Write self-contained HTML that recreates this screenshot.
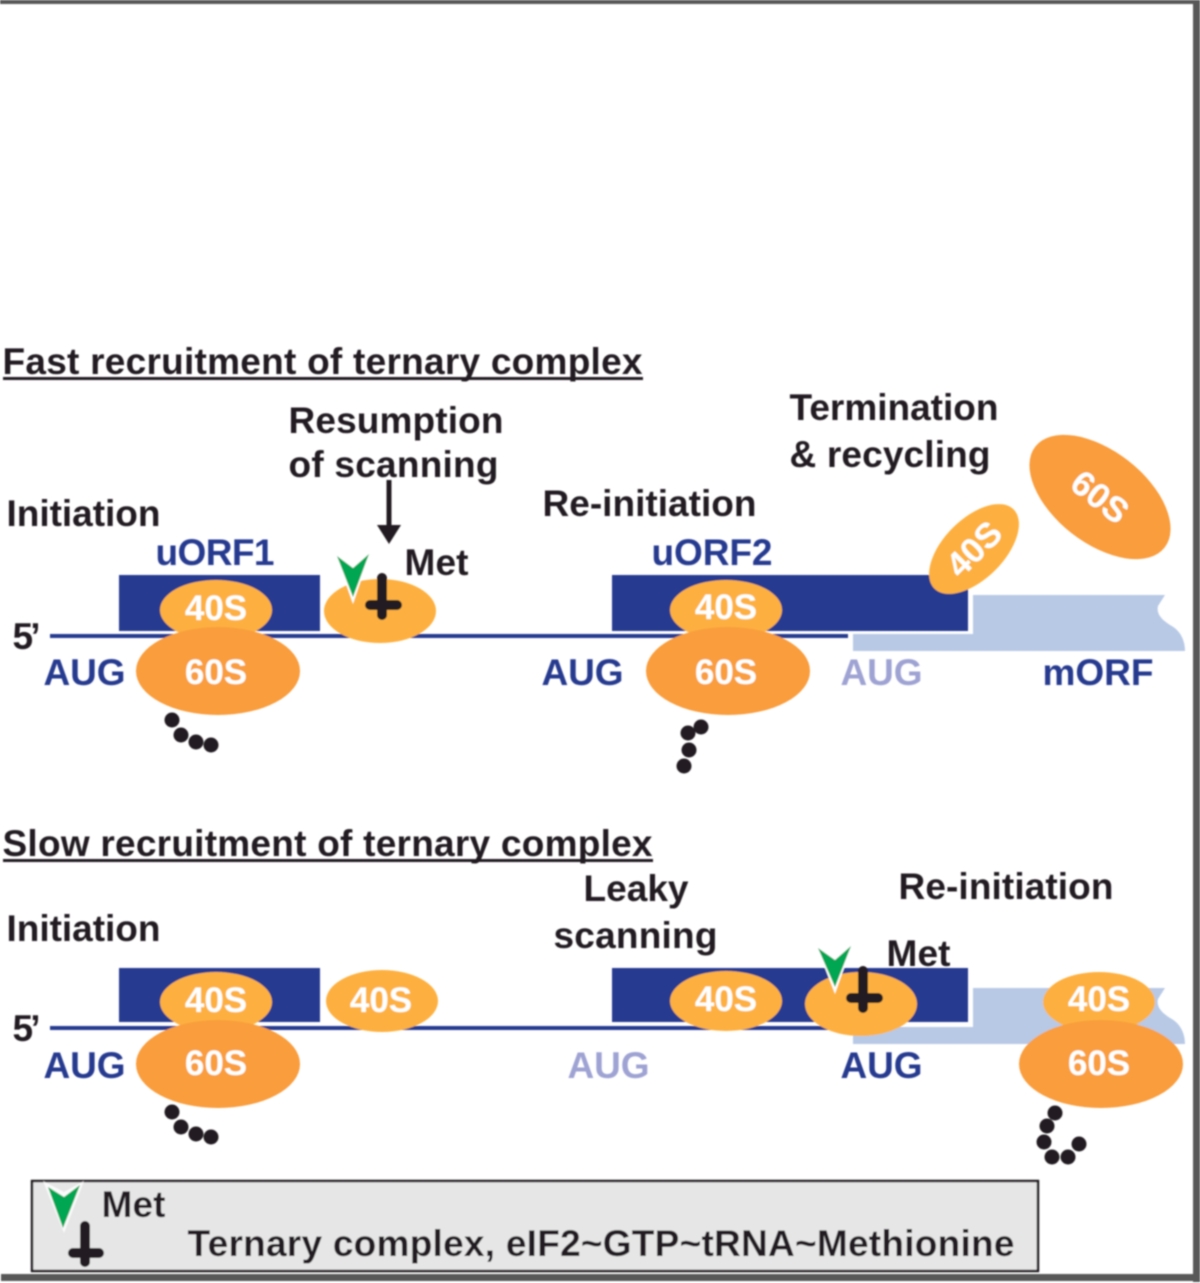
<!DOCTYPE html>
<html>
<head>
<meta charset="utf-8">
<style>
html,body{margin:0;padding:0;background:#fff;}
svg{display:block;}
text{font-family:"Liberation Sans",sans-serif;font-weight:bold;}
.k{fill:#231f20;font-size:37px;transform:translate(-0.5px,0.8px);}
.b{fill:#283a90;font-size:37px;transform:translate(-0.5px,0.8px);}
.l{fill:#9fa3d3;font-size:37px;transform:translate(-0.5px,0.8px);}
.w{fill:#fff;font-size:35px;text-anchor:middle;}
</style>
</head>
<body>
<svg width="1200" height="1283" viewBox="0 0 1200 1283" xmlns="http://www.w3.org/2000/svg">
<defs><filter id="s" x="-5%" y="-5%" width="110%" height="110%"><feGaussianBlur stdDeviation="0.8"/></filter></defs>
<rect width="1200" height="1283" fill="#fff"/>
<g filter="url(#s)">
<!-- frame -->
<rect x="0" y="0" width="1200" height="4" fill="#595959"/>
<rect x="1193" y="0" width="7" height="1282" fill="#595959"/>
<rect x="1" y="1274" width="1199" height="7" fill="#595959"/>

<!-- top panel -->
<text class="k" x="3" y="373" textLength="640">Fast recruitment of ternary complex</text>
<rect x="3" y="377" width="640" height="3" fill="#231f20"/>
<text class="k" x="289" y="432" textLength="215">Resumption</text>
<text class="k" x="289" y="476" textLength="210">of scanning</text>
<text class="k" x="790" y="419" textLength="209">Termination</text>
<text class="k" x="790" y="466" textLength="201">&amp; recycling</text>
<text class="k" x="7" y="525" textLength="154">Initiation</text>
<text class="k" x="543" y="515" textLength="214">Re-initiation</text>
<text class="b" x="156" y="564" textLength="119">uORF1</text>
<text class="b" x="652" y="564" textLength="121">uORF2</text>
<text class="k" x="405" y="574" textLength="64">Met</text>
<text class="k" x="13" y="648" textLength="28">5’</text>
<text class="b" x="44" y="684" textLength="82">AUG</text>
<text class="b" x="542" y="684" textLength="82">AUG</text>
<text class="l" x="841" y="684" textLength="82">AUG</text>
<text class="b" x="1043" y="684" textLength="111">mORF</text>

<rect x="386.500" y="480" width="5" height="46" fill="#231f20"/>
<polygon points="377,525 401,525 389,544" fill="#231f20"/>

<path d="M973 595H1165L1158 606C1156 614 1162 620 1170 625C1180 630 1185 640 1185 651H853V634H973Z" fill="#b8c9e6"/>
<rect x="50" y="634" width="798" height="4" fill="#283a90"/>
<rect x="119" y="575" width="201" height="56" fill="#283a90"/>
<rect x="612" y="575" width="356" height="56" fill="#283a90"/>

<ellipse cx="216" cy="610" rx="56" ry="30" fill="#fdb03f"/>
<ellipse cx="218" cy="671" rx="82" ry="44" fill="#f99d3c"/>
<text class="w" x="216" y="620">40S</text>
<text class="w" x="216" y="684">60S</text>

<ellipse cx="380" cy="611" rx="56" ry="32" fill="#fdb03f"/>
<polygon points="335,553 353,565 371,551 353,604" fill="#fff"/>
<polygon points="337,556 353,568 369,554 353,597" fill="#00a651"/>
<path d="M382 578V615M370 605H397" stroke="#231f20" stroke-width="10" stroke-linecap="round" fill="none"/>

<ellipse cx="726" cy="610" rx="56" ry="30" fill="#fdb03f"/>
<ellipse cx="728" cy="671" rx="82" ry="44" fill="#f99d3c"/>
<text class="w" x="726" y="619">40S</text>
<text class="w" x="726" y="684">60S</text>

<g transform="translate(974 549) rotate(-45)">
<ellipse cx="0" cy="0" rx="56" ry="30" fill="#fdb03f"/>
<text class="w" x="0" y="12">40S</text>
</g>
<g transform="translate(1100 497) rotate(38)">
<ellipse cx="0" cy="0" rx="82" ry="46" fill="#f99d3c"/>
<text class="w" x="0" y="12">60S</text>
</g>

<g fill="#231f20">
<circle cx="172" cy="720" r="7.500"/><circle cx="181" cy="735" r="7.500"/><circle cx="196" cy="742" r="7.500"/><circle cx="211" cy="745" r="7.500"/>
<circle cx="701" cy="727" r="7.500"/><circle cx="688" cy="733" r="7.500"/><circle cx="689" cy="750" r="7.500"/><circle cx="684" cy="766" r="7.500"/>
</g>

<!-- bottom panel -->
<text class="k" x="3" y="855" textLength="650">Slow recruitment of ternary complex</text>
<rect x="3" y="859" width="650" height="3" fill="#231f20"/>
<text class="k" x="7" y="940" textLength="154">Initiation</text>
<text class="k" x="584" y="900" textLength="105">Leaky</text>
<text class="k" x="554" y="947" textLength="164">scanning</text>
<text class="k" x="899" y="898" textLength="215">Re-initiation</text>
<text class="k" x="887" y="965" textLength="64">Met</text>
<text class="k" x="13" y="1040" textLength="28">5’</text>
<text class="b" x="44" y="1077" textLength="82">AUG</text>
<text class="l" x="568" y="1077" textLength="82">AUG</text>
<text class="b" x="841" y="1077" textLength="82">AUG</text>

<path d="M973 988H1165L1158 999C1156 1007 1162 1013 1170 1018C1180 1023 1185 1033 1185 1044H853V1027H973Z" fill="#b8c9e6"/>
<rect x="50" y="1026" width="790" height="4" fill="#283a90"/>
<rect x="119" y="968" width="201" height="54" fill="#283a90"/>
<rect x="612" y="968" width="356" height="54" fill="#283a90"/>

<ellipse cx="216" cy="1002" rx="56" ry="30" fill="#fdb03f"/>
<ellipse cx="218" cy="1064" rx="82" ry="44" fill="#f99d3c"/>
<text class="w" x="216" y="1012">40S</text>
<text class="w" x="216" y="1075">60S</text>

<ellipse cx="382" cy="1001" rx="56" ry="31" fill="#fdb03f"/>
<text class="w" x="381" y="1012">40S</text>

<ellipse cx="726" cy="1001" rx="56" ry="30" fill="#fdb03f"/>
<text class="w" x="726" y="1011">40S</text>

<ellipse cx="861" cy="1004" rx="56" ry="32" fill="#fdb03f"/>
<polygon points="816,945 835,957 853,943 835,994" fill="#fff"/>
<polygon points="818,948 835,960 851,946 835,987" fill="#00a651"/>
<path d="M863 971V1008M851 998H878" stroke="#231f20" stroke-width="10" stroke-linecap="round" fill="none"/>

<ellipse cx="1099" cy="1002" rx="56" ry="30" fill="#fdb03f"/>
<ellipse cx="1101" cy="1064" rx="82" ry="44" fill="#f99d3c"/>
<text class="w" x="1099" y="1011">40S</text>
<text class="w" x="1099" y="1075">60S</text>

<g fill="#231f20">
<circle cx="172" cy="1112" r="7.500"/><circle cx="181" cy="1127" r="7.500"/><circle cx="196" cy="1134" r="7.500"/><circle cx="211" cy="1137" r="7.500"/>
<circle cx="1055" cy="1113" r="7.500"/><circle cx="1047" cy="1126" r="7.500"/><circle cx="1044" cy="1142" r="7.500"/><circle cx="1052" cy="1157" r="7.500"/><circle cx="1068" cy="1157" r="7.500"/><circle cx="1079" cy="1144" r="7.500"/>
</g>

<!-- legend -->
<rect x="32" y="1181" width="1006" height="90" fill="#e6e6e6" stroke="#231f20" stroke-width="2.500"/>
<polygon points="43,1181 64,1192 84,1181 64,1233" fill="#fff" opacity=".8"/>
<polygon points="48,1187 64,1197 80,1185 63,1228" fill="#00a651"/>
<path d="M85 1226V1262M73 1253H99" stroke="#231f20" stroke-width="10" stroke-linecap="round" fill="none"/>
<text class="k" x="102" y="1216" textLength="64">Met</text>
<text class="k" x="188" y="1255" textLength="827">Ternary complex, eIF2~GTP~tRNA~Methionine</text>
</g>
</svg>
</body>
</html>
